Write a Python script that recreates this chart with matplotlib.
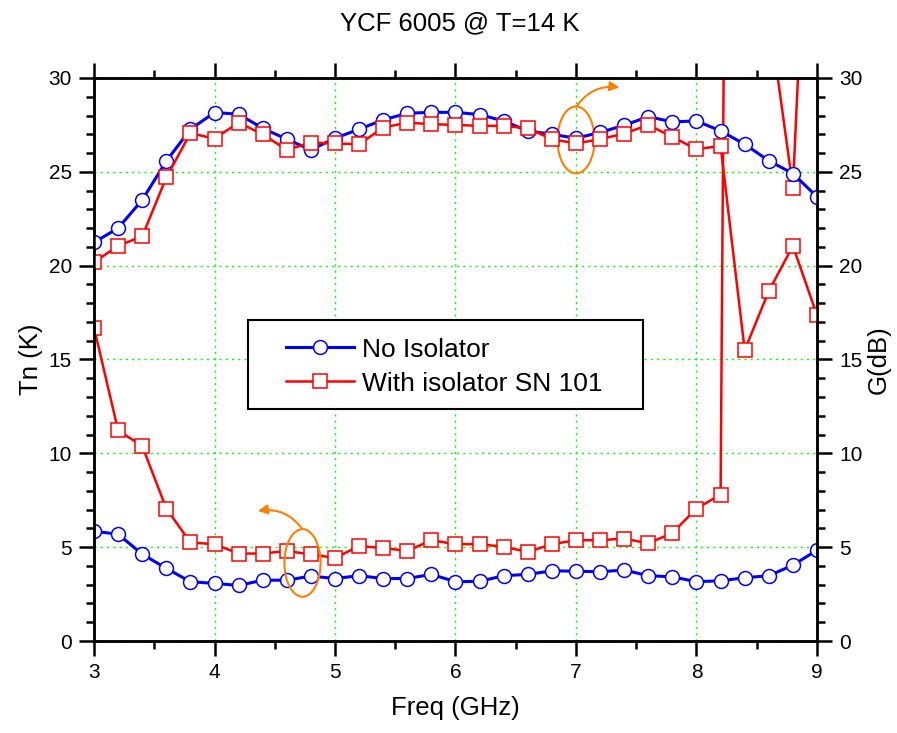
import matplotlib
matplotlib.use("Agg")
import matplotlib.pyplot as plt
from matplotlib.patches import Ellipse, FancyArrowPatch, Rectangle
from matplotlib.ticker import MultipleLocator

plt.rcParams['font.family'] = ['Liberation Sans', 'DejaVu Sans']

freq = [3.0, 3.2, 3.4, 3.6, 3.8, 4.0, 4.2, 4.4, 4.6, 4.8, 5.0, 5.2, 5.4, 5.6, 5.8, 6.0,
        6.2, 6.4, 6.6, 6.8, 7.0, 7.2, 7.4, 7.6, 7.8, 8.0, 8.2, 8.4, 8.6, 8.8, 9.0]

tn_no_iso = [5.85, 5.69, 4.63, 3.87, 3.16, 3.07, 2.96, 3.24, 3.24, 3.46, 3.33, 3.48, 3.33, 3.33,
             3.55, 3.16, 3.18, 3.48, 3.55, 3.74, 3.72, 3.69, 3.78, 3.48, 3.42, 3.16, 3.21, 3.37,
             3.48, 4.04, 4.84]
tn_iso = [16.7, 11.22, 10.39, 7.06, 5.25, 5.16, 4.66, 4.66, 4.8, 4.61, 4.43, 5.05, 4.96, 4.8,
          5.37, 5.16, 5.16, 5.02, 4.75, 5.16, 5.37, 5.37, 5.46, 5.2, 5.76, 7.06, 7.8, 185.0,
          33.5, 24.15, 52.0]
g_no_iso = [21.24, 22.0, 23.5, 25.57, 27.27, 28.16, 28.07, 27.32, 26.74, 26.17, 26.79, 27.27,
            27.77, 28.12, 28.17, 28.17, 28.05, 27.71, 27.18, 27.0, 26.79, 27.1, 27.48, 27.94,
            27.66, 27.71, 27.18, 26.47, 25.59, 24.91, 23.67]
g_iso = [20.18, 21.06, 21.56, 24.7, 27.06, 26.77, 27.62, 27.0, 26.17, 26.56, 26.51, 26.47,
         27.36, 27.62, 27.54, 27.5, 27.45, 27.45, 27.32, 26.74, 26.51, 26.74, 27.04, 27.5,
         26.86, 26.2, 26.38, 15.5, 18.65, 21.05, 17.36]

labels = ["No Isolator", "With isolator SN 101"]
title = "YCF 6005 @ T=14 K"

blue = "#0000FF"
red = "#FF0000"
orange = "#FF8000"

fig = plt.figure(figsize=(8.97, 7.33), dpi=100)
ax = fig.add_axes([0.1048, 0.1255, 0.806, 0.7681])
ax2 = ax.twinx()

ax.set_xlim(3, 9)
ax.set_ylim(0, 30)
ax2.set_ylim(0, 30)

mk = dict(markersize=10, markerfacecolor="white", markeredgewidth=1.1)
h1, = ax.plot(freq, tn_no_iso, color=blue, lw=2.2, marker="o", markeredgecolor=blue, **mk)
h2, = ax.plot(freq, tn_iso, color=red, lw=1.8, marker="s", markeredgecolor=red, **mk)
ax2.plot(freq, g_no_iso, color=blue, lw=2.2, marker="o", markeredgecolor=blue, **mk)
ax2.plot(freq, g_iso, color=red, lw=1.8, marker="s", markeredgecolor=red, **mk)

for a in (ax, ax2):
    for sp in a.spines.values():
        sp.set_linewidth(1.8)

ax.xaxis.set_major_locator(MultipleLocator(1))
ax.xaxis.set_minor_locator(MultipleLocator(0.5))
ax.yaxis.set_major_locator(MultipleLocator(5))
ax.yaxis.set_minor_locator(MultipleLocator(1))
ax2.yaxis.set_major_locator(MultipleLocator(5))
ax2.yaxis.set_minor_locator(MultipleLocator(1))

ax.tick_params(axis="both", which="major", direction="out", length=11, width=1.8,
               labelsize=15, top=True, pad=5)
ax.tick_params(axis="both", which="minor", direction="out", length=6, width=1.8, top=True)
ax2.tick_params(axis="y", which="major", direction="out", length=11, width=1.8,
                labelsize=15, pad=5)
ax2.tick_params(axis="y", which="minor", direction="out", length=6, width=1.8)

ax.grid(True, which="major", color="#00FF00", linestyle=(0, (1.5, 3)), linewidth=1.0)

ax.set_xlabel("Freq (GHz)", fontsize=18.5, labelpad=10)
ax.set_ylabel("Tn (K)", fontsize=18.5, labelpad=4)
ax2.set_ylabel("G(dB)", fontsize=18.5, labelpad=3)
fig.suptitle(title, fontsize=18.5, x=0.512, y=0.985, va="top")

# legend frame drawn separately (wide padding as in the reference)
frame = Rectangle((0.213, 0.412), 0.546, 0.158, transform=ax2.transAxes,
                  facecolor="white", edgecolor="black", lw=1.5, zorder=4.5)
ax2.add_patch(frame)
leg = ax2.legend([h1, h2], labels, loc="upper left", bbox_to_anchor=(0.266, 0.539),
                 fontsize=19, frameon=False,
                 handlelength=2.58, borderpad=0, labelspacing=0.38, handletextpad=0.3,
                 borderaxespad=0)
leg.set_zorder(5)

# annotations
e1 = Ellipse((7.0, 26.7), 0.307, 3.57, fill=False, edgecolor=orange, lw=1.5)
e2 = Ellipse((4.73, 4.16), 0.30, 3.6, fill=False, edgecolor=orange, lw=1.5)
ax2.add_patch(e1)
ax2.add_patch(e2)
a1 = FancyArrowPatch((7.0, 28.45), (7.36, 29.5), connectionstyle="arc3,rad=-0.3",
                     arrowstyle="-|>", mutation_scale=14, color=orange, lw=1.5,
                     shrinkA=0, shrinkB=0)
a2 = FancyArrowPatch((4.73, 5.96), (4.36, 6.93), connectionstyle="arc3,rad=0.3",
                     arrowstyle="-|>", mutation_scale=14, color=orange, lw=1.5,
                     shrinkA=0, shrinkB=0)
ax2.add_patch(a1)
ax2.add_patch(a2)

fig.savefig("out.png", dpi=100)
